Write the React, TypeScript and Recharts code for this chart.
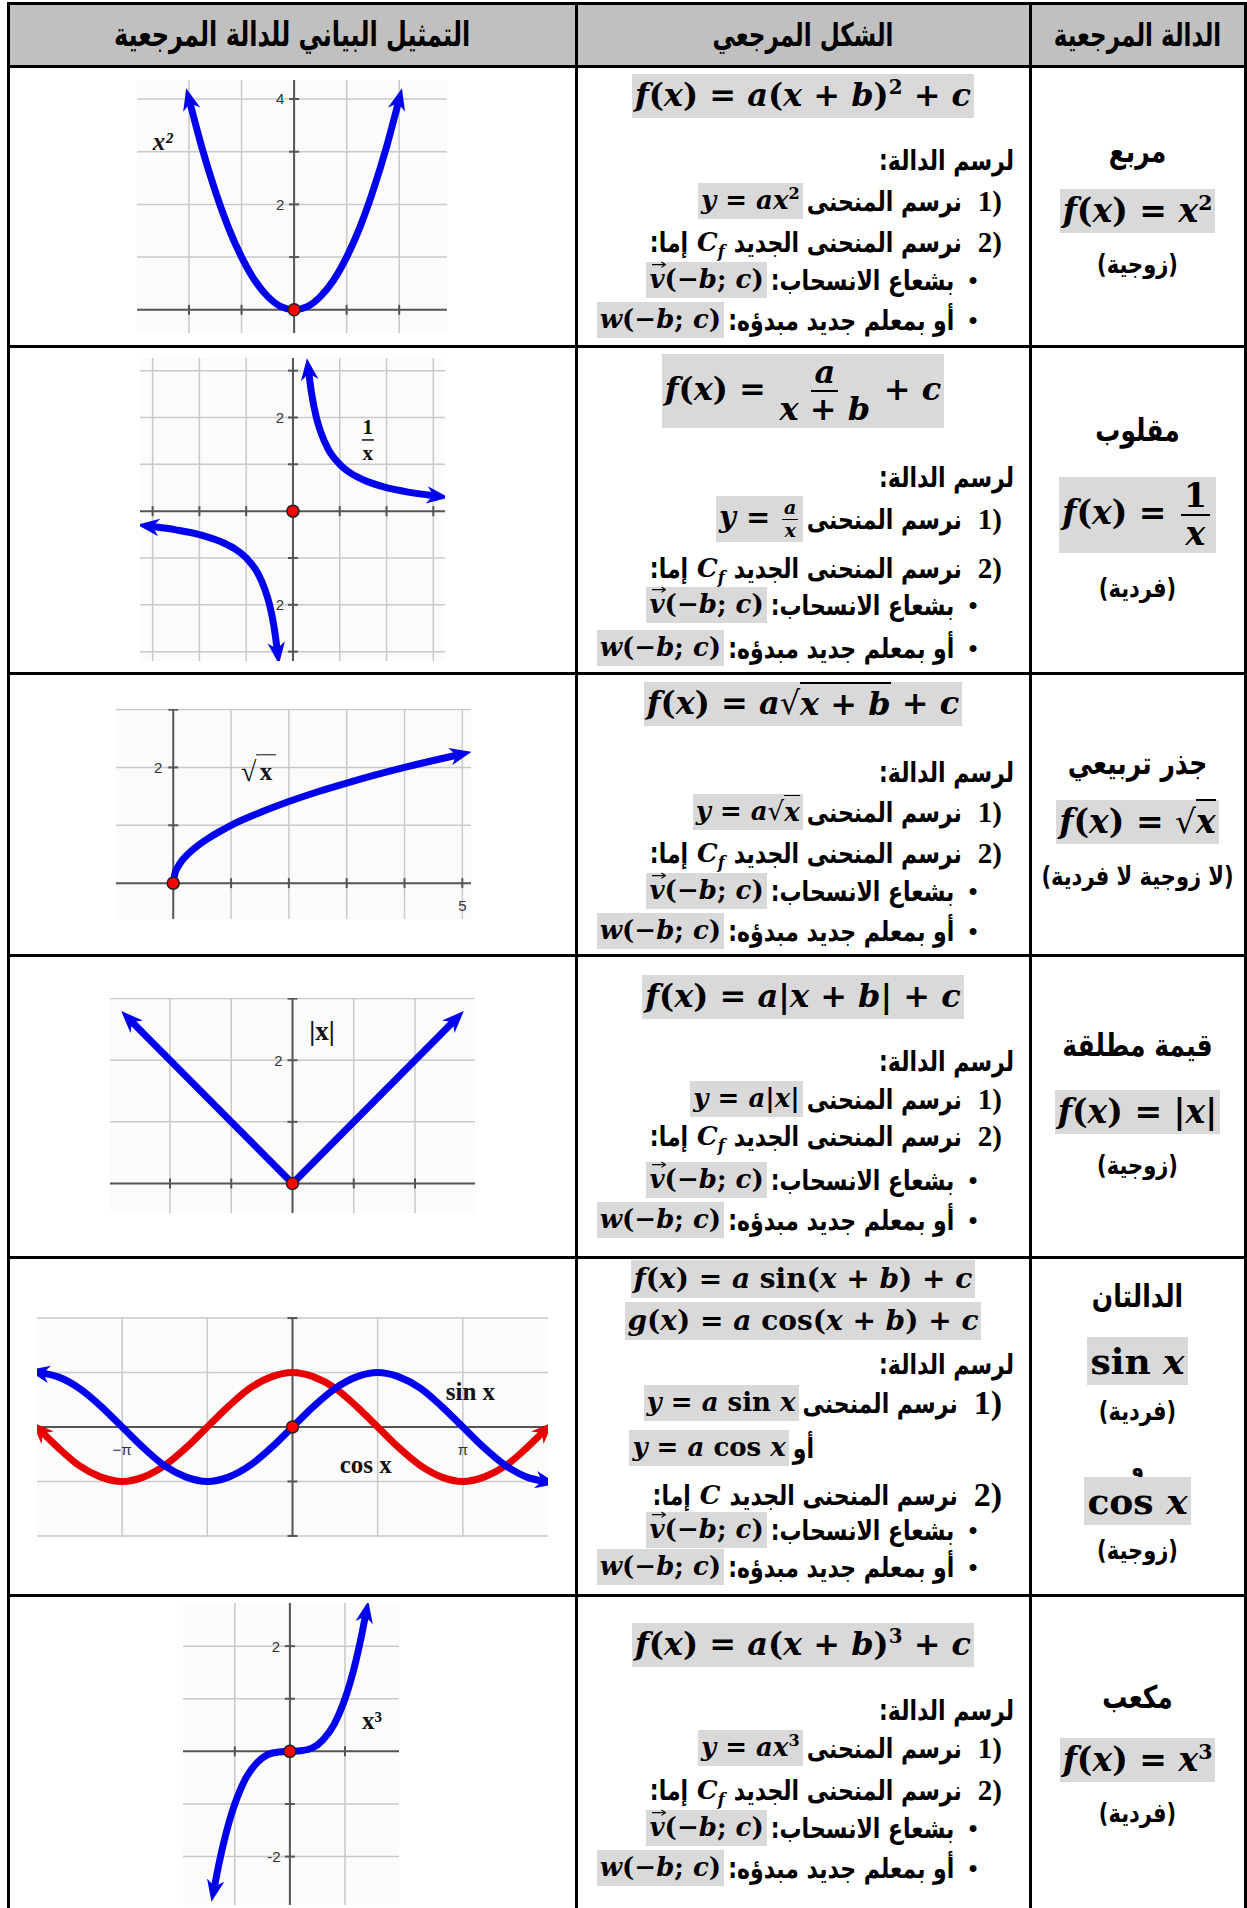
import React from "react";
import { LineChart, Line, XAxis, YAxis, ReferenceLine, ReferenceDot } from "recharts";

// curve samples
const squareX = [-1.98, -1.75, -1.5, -1.25, -1, -0.75, -0.5, -0.25, 0, 0.25, 0.5, 0.75, 1, 1.25, 1.5, 1.75, 1.98];
const squareY = [3.92, 3.06, 2.25, 1.56, 1, 0.56, 0.25, 0.06, 0, 0.06, 0.25, 0.56, 1, 1.56, 2.25, 3.06, 3.92];

const inverseRightX = [0.34, 0.4, 0.5, 0.6, 0.75, 1, 1.25, 1.5, 2, 2.5, 3];
const inverseRightY = [2.94, 2.5, 2, 1.67, 1.33, 1, 0.8, 0.67, 0.5, 0.4, 0.33];
const inverseLeftX = [-3, -2.5, -2, -1.5, -1.25, -1, -0.75, -0.6, -0.5, -0.4, -0.34];
const inverseLeftY = [-0.33, -0.4, -0.5, -0.67, -0.8, -1, -1.33, -1.67, -2, -2.5, -2.94];

const rootX = [0, 0.03, 0.08, 0.15, 0.25, 0.4, 0.6, 0.8, 1, 1.5, 2, 2.5, 3, 3.5, 4, 4.5, 4.9];
const rootY = [0, 0.17, 0.28, 0.39, 0.5, 0.63, 0.77, 0.89, 1, 1.22, 1.41, 1.58, 1.73, 1.87, 2, 2.12, 2.21];

const absX = [-2.62, 0, 2.62];
const absY = [2.62, 0, 2.62];

const trigX = [-4.6, -4.32, -3.93, -3.53, -3.14, -2.75, -2.36, -1.96, -1.57, -1.18, -0.79, -0.39, 0, 0.39, 0.79, 1.18, 1.57, 1.96, 2.36, 2.75, 3.14, 3.53, 3.93, 4.32, 4.6];
const sinY = [0.99, 0.92, 0.71, 0.38, 0, -0.38, -0.71, -0.92, -1, -0.92, -0.71, -0.38, 0, 0.38, 0.71, 0.92, 1, 0.92, 0.71, 0.38, 0, -0.38, -0.71, -0.92, -0.99];
const cosY = [-0.11, -0.38, -0.71, -0.92, -1, -0.92, -0.71, -0.38, 0, 0.38, 0.71, 0.92, 1, 0.92, 0.71, 0.38, 0, -0.38, -0.71, -0.92, -1, -0.92, -0.71, -0.38, -0.11];

const cubeX = [-1.37, -1.3, -1.2, -1.1, -1, -0.9, -0.8, -0.6, -0.4, -0.2, 0, 0.2, 0.4, 0.6, 0.8, 0.9, 1, 1.1, 1.2, 1.3, 1.37];
const cubeY = [-2.57, -2.2, -1.73, -1.33, -1, -0.73, -0.51, -0.22, -0.06, -0.01, 0, 0.01, 0.06, 0.22, 0.51, 0.73, 1, 1.33, 1.73, 2.2, 2.57];

// grid / tick values per panel
const squareGridX = [-2, -1, 1, 2];
const squareGridY = [1, 2, 3, 4];
const inverseGrid = [-3, -2, -1, 1, 2, 3];
const rootGridX = [1, 2, 3, 4, 5];
const rootGridY = [1, 2, 3];
const absGridX = [-2, -1, 1, 2];
const absGridY = [1, 2, 3];
const trigGridX = [-3.14, -1.57, 1.57, 3.14];
const trigGridY = [-2, -1, 1, 2];
const cubeGridX = [-1, 1];
const cubeGridY = [-2, -1, 1, 2];

const headers = ["الدالة المرجعية", "الشكل المرجعي", "التمثيل البياني للدالة المرجعية"];

const zip = (xs: number[], ys: number[]) => xs.map((x, i) => ({ x, y: ys[i] }));

const PAGE_W = 1247;
const BLUE = "#0000ee";
const RED = "#e60000";
const MATH = "'DejaVu Serif', 'Liberation Serif', serif";
const AR = "'DejaVu Sans', 'Noto Sans', sans-serif";
const GRAY = "#d9d9d9";

type Pt = { x: number; y: number };
type Series = { data: Pt[]; color: string; marker: string; start: boolean; type: "monotone" | "linear" };
type Note = { x: number; y: number; draw: (cx: number, cy: number) => React.ReactNode };

function Graph(props: {
  x: number; y: number; w: number; h: number;
  xDomain: [number, number]; yDomain: [number, number];
  gridX: number[]; gridY: number[]; tickX: number[]; tickY: number[];
  series: Series[]; notes: Note[];
}) {
  const { x, y, w, h, xDomain, yDomain } = props;
  const tx = (5 * (yDomain[1] - yDomain[0])) / h;
  const ty = (5 * (xDomain[1] - xDomain[0])) / w;
  return (
    <div style={{ position: "absolute", left: x, top: y, width: w, height: h, background: "#fbfbfb" }}>
      <LineChart width={w} height={h} margin={{ top: 0, right: 0, bottom: 0, left: 0 }}>
        <XAxis type="number" dataKey="x" domain={xDomain} hide />
        <YAxis type="number" dataKey="y" domain={yDomain} hide />
        {props.gridX.map((v) => (
          <ReferenceLine key={"gx" + v} x={v} stroke="#c9c9c9" strokeWidth={1.5} />
        ))}
        {props.gridY.map((v) => (
          <ReferenceLine key={"gy" + v} y={v} stroke="#c9c9c9" strokeWidth={1.5} />
        ))}
        <ReferenceLine x={0} stroke="#555" strokeWidth={2} />
        <ReferenceLine y={0} stroke="#555" strokeWidth={2} />
        {props.tickX.map((v) => (
          <ReferenceLine key={"tx" + v} segment={[{ x: v, y: -tx }, { x: v, y: tx }]} stroke="#555" strokeWidth={2} />
        ))}
        {props.tickY.map((v) => (
          <ReferenceLine key={"ty" + v} segment={[{ x: -ty, y: v }, { x: ty, y: v }]} stroke="#555" strokeWidth={2} />
        ))}
        {props.series.map((s, i) => (
          <Line
            key={i}
            data={s.data}
            dataKey="y"
            type={s.type}
            stroke={s.color}
            strokeWidth={7}
            dot={false}
            activeDot={false}
            isAnimationActive={false}
            markerEnd={`url(#${s.marker})`}
            markerStart={s.start ? `url(#${s.marker})` : undefined}
          />
        ))}
        <ReferenceDot x={0} y={0} r={6} fill="#ff0000" stroke="#222" strokeWidth={1.5} />
        {props.notes.map((n, i) => (
          <ReferenceDot key={"n" + i} x={n.x} y={n.y} r={0} shape={(p: any) => <g>{n.draw(p.cx, p.cy)}</g>} />
        ))}
      </LineChart>
    </div>
  );
}

const tickLabel = (t: string, dx: number, dy: number) => (cx: number, cy: number) => (
  <text x={cx + dx} y={cy + dy} textAnchor="middle" dominantBaseline="central" fontFamily="'Liberation Sans', Arial, sans-serif" fontSize={15} fill="#333">
    {t}
  </text>
);

const serifLabel = (t: string, size: number, italic = false) => (cx: number, cy: number) => (
  <text x={cx} y={cy} textAnchor="middle" dominantBaseline="central" fontFamily="'Liberation Serif', serif" fontWeight={700} fontStyle={italic ? "italic" : "normal"} fontSize={size} fill="#111">
    {t}
  </text>
);

// ---------- text helpers ----------
const SUP: React.CSSProperties = { fontSize: "0.62em", verticalAlign: "0.6em", lineHeight: 0, fontStyle: "normal" };
const SUB: React.CSSProperties = { fontSize: "0.62em", verticalAlign: "-0.35em", lineHeight: 0, fontStyle: "italic" };

function parse(s: string): React.ReactNode[] {
  const out: React.ReactNode[] = [];
  let i = 0;
  let k = 0;
  while (i < s.length) {
    const c = s[i];
    if (s.startsWith("sin", i) || s.startsWith("cos", i)) {
      out.push(<span key={k++}>{s.slice(i, i + 3)}</span>);
      i += 3;
    } else if (c === "^") {
      out.push(<span key={k++} style={SUP}>{s[i + 1]}</span>);
      i += 2;
    } else if (c === "_") {
      out.push(<span key={k++} style={SUB}>{s[i + 1]}</span>);
      i += 2;
    } else if (c === "~") {
      out.push(
        <span key={k++} style={{ position: "relative", display: "inline-block" }}>
          <i>{s[i + 1]}</i>
          <svg viewBox="0 0 10 5" style={{ position: "absolute", left: "0.08em", top: "-0.08em", width: "0.55em", height: "0.28em" }}>
            <path d="M0,2.5 H9.2 M6.6,0.6 L9.4,2.5 L6.6,4.4" stroke="#000" strokeWidth={0.8} fill="none" />
          </svg>
        </span>
      );
      i += 2;
    } else if (c === "√") {
      const end = s.indexOf("}", i);
      const inner = s.slice(i + 2, end);
      out.push(
        <span key={k++}>
          <span style={{ fontWeight: 400 }}>√</span>
          <span style={{ borderTop: "0.07em solid #000", paddingTop: "0.02em" }}>{parse(inner)}</span>
        </span>
      );
      i = end + 1;
    } else if (/[a-zA-Z]/.test(c)) {
      out.push(<i key={k++}>{c}</i>);
      i++;
    } else if (c === "-") {
      out.push(<span key={k++}>−</span>);
      i++;
    } else {
      out.push(<span key={k++}>{c}</span>);
      i++;
    }
  }
  return out;
}

function M({ s, size }: { s: string; size?: number }) {
  return (
    <span style={{ fontFamily: MATH, fontWeight: 700, fontSize: size, whiteSpace: "pre", direction: "ltr", unicodeBidi: "isolate", margin: "0 5px" }}>
      {parse(s)}
    </span>
  );
}

function Frac({ num, den, small }: { num: string; den: string; small?: boolean }) {
  return (
    <span style={{ display: "inline-flex", flexDirection: "column", alignItems: "center", verticalAlign: "middle", fontSize: small ? "0.66em" : "1em", margin: "0 0.08em" }}>
      <span style={{ borderBottom: "0.07em solid #000", padding: "0 0.1em", lineHeight: 1.1 }}>{parse(num)}</span>
      <span style={{ lineHeight: 1.1 }}>{parse(den)}</span>
    </span>
  );
}

function Gray({ children, size }: { children: React.ReactNode; size: number }) {
  return (
    <span style={{ display: "inline-block", background: GRAY, padding: "1px 3px", lineHeight: 1.3, fontFamily: MATH, fontWeight: 700, fontSize: size, whiteSpace: "pre", direction: "ltr", unicodeBidi: "isolate" }}>
      {children}
    </span>
  );
}

function Center({ cx, cy, children }: { cx: number; cy: number; children: React.ReactNode }) {
  return (
    <div style={{ position: "absolute", left: cx - 200, width: 400, top: cy - 50, height: 100, display: "flex", alignItems: "center", justifyContent: "center", direction: "rtl" }}>
      {children}
    </div>
  );
}

function RLine({ right, cy, children }: { right: number; cy: number; children: React.ReactNode }) {
  return (
    <div style={{ position: "absolute", right: PAGE_W - right, top: cy - 40, height: 80, display: "flex", alignItems: "center", direction: "rtl", whiteSpace: "nowrap" }}>
      {children}
    </div>
  );
}

const arText = (t: string, size = 22, stretch = 1.25) => (
  <span style={{ display: "inline-block", fontFamily: AR, fontWeight: 700, fontSize: size, margin: "0 4px", transform: `scaleY(${stretch})` }}>{t}</span>
);
// list number like "1)" kept in left-to-right order
const num = (n: string, size = 29) => (
  <span style={{ display: "inline-flex", direction: "ltr", fontFamily: "'Liberation Serif', serif", fontWeight: 700, fontSize: size, marginLeft: 12 }}>
    <span>{n}</span>
    <span>)</span>
  </span>
);
const bullet = <span style={{ fontSize: 16, marginLeft: 10 }}>●</span>;

function Steps({ ys, first, curve }: { ys: number[]; first: React.ReactNode; curve: string }) {
  return (
    <>
      <RLine right={1018} cy={ys[0]}>{arText("لرسم الدالة:")}</RLine>
      <RLine right={1002} cy={ys[1]}>
        {num("1")}
        {arText("نرسم المنحنى")}
        {first}
      </RLine>
      <RLine right={1002} cy={ys[2]}>
        {num("2")}
        {arText("نرسم المنحنى الجديد")}
        <M s={curve} size={26} />
        {arText("إما:")}
      </RLine>
      <RLine right={978} cy={ys[3]}>
        {bullet}
        {arText("بشعاع الانسحاب:")}
        <Gray size={26}>{parse("~v(-b; c)")}</Gray>
      </RLine>
      <RLine right={978} cy={ys[4]}>
        {bullet}
        {arText("أو بمعلم جديد مبدؤه:")}
        <Gray size={26}>{parse("w(-b; c)")}</Gray>
      </RLine>
    </>
  );
}

function RightCell({ ys, name, fn, parity }: { ys: number[]; name: string; fn: React.ReactNode; parity: string }) {
  return (
    <>
      <Center cx={1137.5} cy={ys[0]}>{arText(name, 25)}</Center>
      <Center cx={1137.5} cy={ys[1]}>{fn}</Center>
      <Center cx={1137.5} cy={ys[2]}>{arText(parity, 21)}</Center>
    </>
  );
}

const MID = 803;
const hLines = [3, 66.5, 346.5, 673, 955.5, 1257.5, 1595];
const vLines = [8.5, 576, 1030, 1245];

export default function App() {
  return (
    <div style={{ position: "absolute", left: 0, top: 0, width: PAGE_W, height: 1908, overflow: "hidden", background: "#fff", color: "#000" }}>
      <svg width={0} height={0} style={{ position: "absolute" }}>
        <defs>
          {[["arrowBlue", BLUE], ["arrowRed", RED]].map(([id, c]) => (
            <marker key={id} id={id} viewBox="0 0 20 20" refX={6} refY={10} markerWidth={22} markerHeight={22} markerUnits="userSpaceOnUse" orient="auto-start-reverse">
              <path d="M0,2 L20,10 L0,18 L6,10 Z" fill={c} />
            </marker>
          ))}
        </defs>
      </svg>

      {/* header */}
      <div style={{ position: "absolute", left: 10, top: 4.5, width: 1234, height: 60.5, background: "#c0c0c0" }} />
      <Center cx={1137.5} cy={35}>{arText(headers[0], 23, 1.4)}</Center>
      <Center cx={MID} cy={35}>{arText(headers[1], 23, 1.4)}</Center>
      <Center cx={292} cy={35}>{arText(headers[2], 24, 1.4)}</Center>

      {/* graphs */}
      <Graph
        x={137} y={80} w={310} h={253}
        xDomain={[-2.99, 2.91]} yDomain={[-0.44, 4.36]}
        gridX={squareGridX} gridY={squareGridY} tickX={squareGridX} tickY={squareGridY}
        series={[{ data: zip(squareX, squareY), color: BLUE, marker: "arrowBlue", start: true, type: "monotone" }]}
        notes={[
          { x: 0, y: 4, draw: tickLabel("4", -14, 0) },
          { x: 0, y: 2, draw: tickLabel("2", -14, 0) },
          { x: -2.5, y: 3.2, draw: serifLabel("x²", 25, true) },
        ]}
      />
      <Graph
        x={140} y={358} w={305} h={303}
        xDomain={[-3.27, 3.25]} yDomain={[-3.2, 3.27]}
        gridX={inverseGrid} gridY={inverseGrid} tickX={inverseGrid} tickY={inverseGrid}
        series={[
          { data: zip(inverseRightX, inverseRightY), color: BLUE, marker: "arrowBlue", start: true, type: "monotone" },
          { data: zip(inverseLeftX, inverseLeftY), color: BLUE, marker: "arrowBlue", start: true, type: "monotone" },
        ]}
        notes={[
          { x: 0, y: 2, draw: tickLabel("2", -13, 0) },
          { x: 0, y: -2, draw: tickLabel("2", -13, 0) },
          {
            x: 1.6, y: 1.52,
            draw: (cx, cy) => (
              <g fontFamily="'Liberation Serif', serif" fontWeight={700} fontSize={21} fill="#111">
                <text x={cx} y={cy - 13} textAnchor="middle" dominantBaseline="central">1</text>
                <line x1={cx - 6} x2={cx + 6} y1={cy} y2={cy} stroke="#111" strokeWidth={1.5} />
                <text x={cx} y={cy + 13} textAnchor="middle" dominantBaseline="central">x</text>
              </g>
            ),
          },
        ]}
      />
      <Graph
        x={116} y={709} w={355} h={210}
        xDomain={[-0.99, 5.15]} yDomain={[-0.62, 3.01]}
        gridX={rootGridX} gridY={rootGridY} tickX={rootGridX} tickY={rootGridY}
        series={[{ data: zip(rootX, rootY), color: BLUE, marker: "arrowBlue", start: false, type: "monotone" }]}
        notes={[
          { x: 0, y: 2, draw: tickLabel("2", -15, 0) },
          { x: 5, y: 0, draw: tickLabel("5", 0, 22) },
          {
            x: 1.5, y: 1.96,
            draw: (cx, cy) => (
              <g fill="#111" fontFamily="'Liberation Serif', serif">
                <text x={cx - 19} y={cy + 2} dominantBaseline="central" fontSize={28}>√</text>
                <line x1={cx - 4} x2={cx + 16} y1={cy - 15} y2={cy - 15} stroke="#333" strokeWidth={1.2} />
                <text x={cx + 6} y={cy + 2} textAnchor="middle" dominantBaseline="central" fontWeight={700} fontSize={25}>x</text>
              </g>
            ),
          },
        ]}
      />
      <Graph
        x={110} y={998} w={365} h={215}
        xDomain={[-2.98, 2.98]} yDomain={[-0.48, 3.01]}
        gridX={absGridX} gridY={absGridY} tickX={absGridX} tickY={absGridY}
        series={[{ data: zip(absX, absY), color: BLUE, marker: "arrowBlue", start: true, type: "linear" }]}
        notes={[
          { x: 0, y: 2, draw: tickLabel("2", -14, 0) },
          { x: 0.48, y: 2.48, draw: serifLabel("|x|", 27) },
        ]}
      />
      <Graph
        x={37} y={1317} w={511} h={220}
        xDomain={[-4.71, 4.71]} yDomain={[-2.02, 2.02]}
        gridX={trigGridX} gridY={trigGridY} tickX={[]} tickY={trigGridY}
        series={[
          { data: zip(trigX, cosY), color: RED, marker: "arrowRed", start: true, type: "monotone" },
          { data: zip(trigX, sinY), color: BLUE, marker: "arrowBlue", start: true, type: "monotone" },
        ]}
        notes={[
          { x: -3.14, y: 0, draw: tickLabel("−π", 0, 22) },
          { x: 3.14, y: 0, draw: tickLabel("π", 0, 22) },
          { x: 3.28, y: 0.66, draw: serifLabel("sin x", 25) },
          { x: 1.35, y: -0.68, draw: serifLabel("cos x", 25) },
        ]}
      />
      <Graph
        x={183} y={1603} w={216} h={302}
        xDomain={[-1.94, 1.98]} yDomain={[-2.92, 2.82]}
        gridX={cubeGridX} gridY={cubeGridY} tickX={cubeGridX} tickY={cubeGridY}
        series={[{ data: zip(cubeX, cubeY), color: BLUE, marker: "arrowBlue", start: true, type: "monotone" }]}
        notes={[
          { x: 0, y: 2, draw: tickLabel("2", -14, 0) },
          { x: 0, y: -2, draw: tickLabel("-2", -16, 0) },
          { x: 1.49, y: 0.59, draw: serifLabel("x³", 25) },
        ]}
      />

      {/* row 1 */}
      <Center cx={MID} cy={96}><Gray size={32}>{parse("f(x) = a(x + b)^2 + c")}</Gray></Center>
      <Steps ys={[160, 201, 242, 280, 320]} first={<Gray size={26}>{parse("y = ax^2")}</Gray>} curve="C_f" />
      <RightCell ys={[151, 211, 264]} name="مربع" fn={<Gray size={33}>{parse("f(x) = x^2")}</Gray>} parity="(زوجية)" />

      {/* row 2 */}
      <Center cx={MID} cy={391}>
        <Gray size={32}>
          {parse("f(x) = ")}
          <Frac num="a" den="x + b" />
          {parse(" + c")}
        </Gray>
      </Center>
      <Steps ys={[477, 519, 568, 605, 648]} first={<Gray size={29}>{parse("y = ")}<Frac num="a" den="x" small /></Gray>} curve="C_f" />
      <RightCell ys={[430, 515, 588]} name="مقلوب" fn={<Gray size={33}>{parse("f(x) = ")}<Frac num="1" den="x" /></Gray>} parity="(فردية)" />

      {/* row 3 */}
      <Center cx={MID} cy={704}><Gray size={32}>{parse("f(x) = a√{x + b} + c")}</Gray></Center>
      <Steps ys={[772, 812, 853, 891, 931]} first={<Gray size={26}>{parse("y = a√{x}")}</Gray>} curve="C_f" />
      <RightCell ys={[763, 822, 876]} name="جذر تربيعي" fn={<Gray size={33}>{parse("f(x) = √{x}")}</Gray>} parity="(لا زوجية لا فردية)" />

      {/* row 4 */}
      <Center cx={MID} cy={997}><Gray size={32}>{parse("f(x) = a|x + b| + c")}</Gray></Center>
      <Steps ys={[1061, 1099, 1136, 1180, 1220]} first={<Gray size={26}>{parse("y = a|x|")}</Gray>} curve="C_f" />
      <RightCell ys={[1045, 1112, 1165]} name="قيمة مطلقة" fn={<Gray size={33}>{parse("f(x) = |x|")}</Gray>} parity="(زوجية)" />

      {/* row 5 */}
      <Center cx={MID} cy={1279}><Gray size={28}>{parse("f(x) = a sin(x + b) + c")}</Gray></Center>
      <Center cx={MID} cy={1321}><Gray size={28}>{parse("g(x) = a cos(x + b) + c")}</Gray></Center>
      <RLine right={1018} cy={1364}>{arText("لرسم الدالة:")}</RLine>
      <RLine right={1002} cy={1403}>
        {num("1", 34)}
        {arText("نرسم المنحنى")}
        <Gray size={26}>{parse("y = a sin x")}</Gray>
      </RLine>
      <RLine right={818} cy={1448}>
        {arText("أو")}
        <Gray size={26}>{parse("y = a cos x")}</Gray>
      </RLine>
      <RLine right={1002} cy={1495}>
        {num("2", 34)}
        {arText("نرسم المنحنى الجديد")}
        <M s="C" size={26} />
        {arText("إما:")}
      </RLine>
      <RLine right={978} cy={1530}>
        {bullet}
        {arText("بشعاع الانسحاب:")}
        <Gray size={26}>{parse("~v(-b; c)")}</Gray>
      </RLine>
      <RLine right={978} cy={1567}>
        {bullet}
        {arText("أو بمعلم جديد مبدؤه:")}
        <Gray size={26}>{parse("w(-b; c)")}</Gray>
      </RLine>
      <Center cx={1137.5} cy={1296}>{arText("الدالتان", 25)}</Center>
      <Center cx={1137.5} cy={1361}><Gray size={36}>{parse("sin x")}</Gray></Center>
      <Center cx={1137.5} cy={1411}>{arText("(فردية)", 21)}</Center>
      <Center cx={1137.5} cy={1467}>{arText("و", 21)}</Center>
      <Center cx={1137.5} cy={1501}><Gray size={36}>{parse("cos x")}</Gray></Center>
      <Center cx={1137.5} cy={1550}>{arText("(زوجية)", 21)}</Center>

      {/* row 6 */}
      <Center cx={MID} cy={1645}><Gray size={32}>{parse("f(x) = a(x + b)^3 + c")}</Gray></Center>
      <Steps ys={[1710, 1748, 1790, 1828, 1868]} first={<Gray size={26}>{parse("y = ax^3")}</Gray>} curve="C_f" />
      <RightCell ys={[1697, 1760, 1813]} name="مكعب" fn={<Gray size={33}>{parse("f(x) = x^3")}</Gray>} parity="(فردية)" />

      {/* table rules */}
      {hLines.map((y) => (
        <div key={"h" + y} style={{ position: "absolute", left: 7, width: 1240, top: y - 1.5, height: 3, background: "#000" }} />
      ))}
      {vLines.map((x) => (
        <div key={"v" + x} style={{ position: "absolute", left: x - 1.5, width: 3, top: 1.5, height: 1910, background: "#000" }} />
      ))}
    </div>
  );
}
